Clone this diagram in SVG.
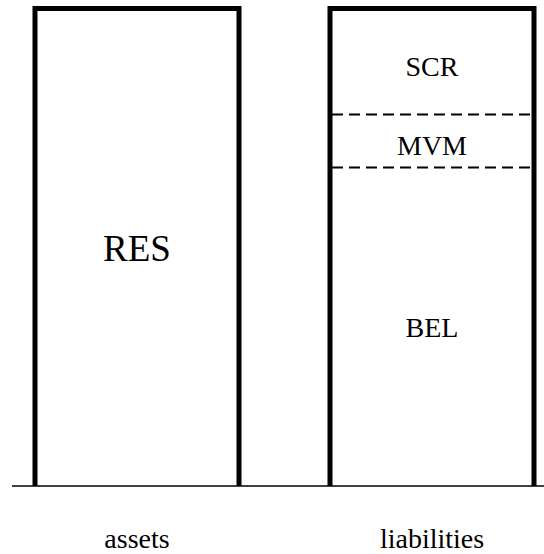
<svg xmlns="http://www.w3.org/2000/svg" width="544" height="554" viewBox="0 0 544 554">
  <style>
    .col { fill: none; stroke: #000; stroke-width: 5; stroke-linejoin: miter; }
    .split { fill: none; stroke: #000; stroke-width: 2; stroke-dasharray: 11 6; }
    .ground { fill: none; stroke: #000; stroke-width: 1.6; }
    text { font-family: "Liberation Serif", "DejaVu Serif", serif; fill: #000; text-anchor: middle; }
    .big { font-size: 37px; }
    .mid { font-size: 28px; }
  </style>
  <rect width="544" height="554" fill="#fff"/>

  <!-- assets column -->
  <g id="assets">
    <path class="col" d="M35,486 V8.5 H239 V486"/>
    <text class="big" x="137" y="261">RES</text>
  </g>

  <!-- liabilities column -->
  <g id="liabilities">
    <path class="col" d="M330,486 V8.5 H534 V486"/>
  </g>
  <g id="scr">
    <text class="mid" x="432" y="76">SCR</text>
  </g>
  <g id="mvm">
    <text class="mid" x="432" y="155">MVM</text>
  </g>
  <g id="bel">
    <text class="mid" x="432" y="337">BEL</text>
  </g>

  <!-- separators and ground line -->
  <g id="connectors">
    <line class="split" x1="332" y1="114.5" x2="532" y2="114.5"/>
    <line class="split" x1="332" y1="167.5" x2="532" y2="167.5"/>
    <line class="ground" x1="12" y1="486" x2="544" y2="486"/>
  </g>

  <g id="labels">
    <text class="mid" x="137" y="548">assets</text>
    <text class="mid" x="432" y="548">liabilities</text>
  </g>
</svg>
